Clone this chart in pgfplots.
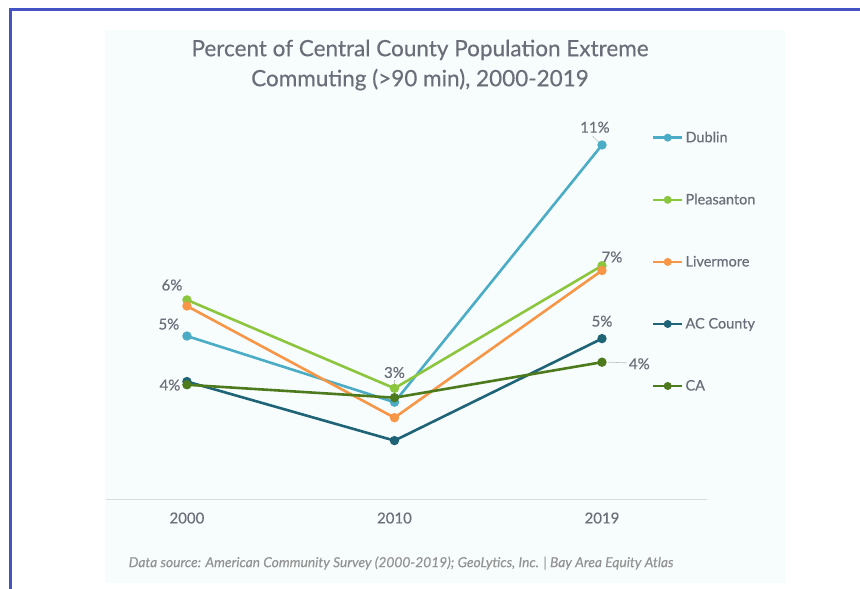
\documentclass[border=0pt]{standalone}
\usepackage{pgfplots}
\pgfplotsset{compat=1.18}
\usepackage{fontspec}
\setmainfont{Lato}[FakeBold=0.35]
\definecolor{cDublin}{HTML}{4BACC6}
\definecolor{cPleas}{HTML}{8CC63F}
\definecolor{cLiver}{HTML}{F79646}
\definecolor{cAC}{HTML}{1F6377}
\definecolor{cCA}{HTML}{4E7A1E}
\definecolor{txt}{HTML}{6B6D78}
\definecolor{bg}{HTML}{F7FDFD}
\definecolor{frame}{HTML}{4454C4}
\begin{document}
\begin{tikzpicture}[x=1pt,y=1pt]
\path[use as bounding box] (0,0) rectangle (860,589);
\fill[bg] (105,6) rectangle (785,559);
\draw[frame,line width=3pt] (10.5,0) -- (10.5,579) -- (860,579);
\node[txt,font=\fontsize{22.5}{30}\selectfont,align=center] at (420,524) {Percent of Central County Population Extreme\\Commuting (>90 min), 2000-2019};
\node[text=gray!85,font=\fontsize{13.8}{15}\selectfont\itshape] at (401,26) {Data source: American Community Survey (2000-2019); GeoLytics, Inc. | Bay Area Equity Atlas};
\begin{axis}[
  at={(106pt,89pt)}, anchor=south west,
  scale only axis, width=601pt, height=387.3pt,
  xmin=-0.39, xmax=2.506, ymin=0, ymax=12,
  axis x line=bottom, axis y line=none,
  axis line style={-, draw=black!15, line width=1pt},
  xtick={0,1,2}, xticklabels={2000,2010,2019},
  major tick length=0pt,
  xticklabel style={text=txt, font=\fontsize{15}{16}\selectfont, yshift=-9pt},
  clip=false,
  every axis plot/.append style={line width=2.6pt, mark=*, mark size=3.3pt},
  legend style={at={(0.908,0.957)}, anchor=north west, draw=none, fill=none,
    font=\fontsize{14.5}{16}\selectfont, text=txt, row sep=46pt, inner sep=0pt,
    /tikz/every even column/.append style={column sep=0pt}},
  legend cell align=left,
  legend image code/.code={\draw[#1, line width=2.6pt, mark size=2.6pt, mark repeat=2, mark phase=2] plot coordinates {(0pt,0pt) (14.5pt,0pt) (29pt,0pt)};},
]
\addplot[cDublin] coordinates {(0,5.08) (1,3.03) (2,11.0)};
\addlegendentry{Dublin}
\addplot[cPleas] coordinates {(0,6.20) (1,3.46) (2,7.26)};
\addlegendentry{Pleasanton}
\addplot[cLiver] coordinates {(0,6.01) (1,2.55) (2,7.11)};
\addlegendentry{Livermore}
\addplot[cAC] coordinates {(0,3.67) (1,1.84) (2,5.00)};
\addlegendentry{AC County}
\addplot[cCA] coordinates {(0,3.57) (1,3.17) (2,4.27)};
\addlegendentry{CA}
\begin{scope}[every node/.style={text=txt, font=\fontsize{15}{16}\selectfont}]
\node at (axis cs:-0.072,6.66) {6\%};
\node at (axis cs:-0.087,5.45) {5\%};
\node at (axis cs:-0.082,3.56) {4\%};
\node at (axis cs:1,3.95) {3\%};
\node at (axis cs:1.966,11.55) {11\%};
\node at (axis cs:2.048,7.53) {7\%};
\node at (axis cs:2.0,5.54) {5\%};
\node at (axis cs:2.18,4.22) {4\%};
\end{scope}
\draw[black!25, line width=0.6pt] (axis cs:1.955,11.27) -- (axis cs:1.985,11.08);
\draw[black!25, line width=0.6pt] (axis cs:1,3.72) -- (axis cs:1,3.25);
\draw[black!25, line width=0.6pt] (axis cs:2.03,4.27) -- (axis cs:2.12,4.25);
\end{axis}
\end{tikzpicture}
\end{document}
